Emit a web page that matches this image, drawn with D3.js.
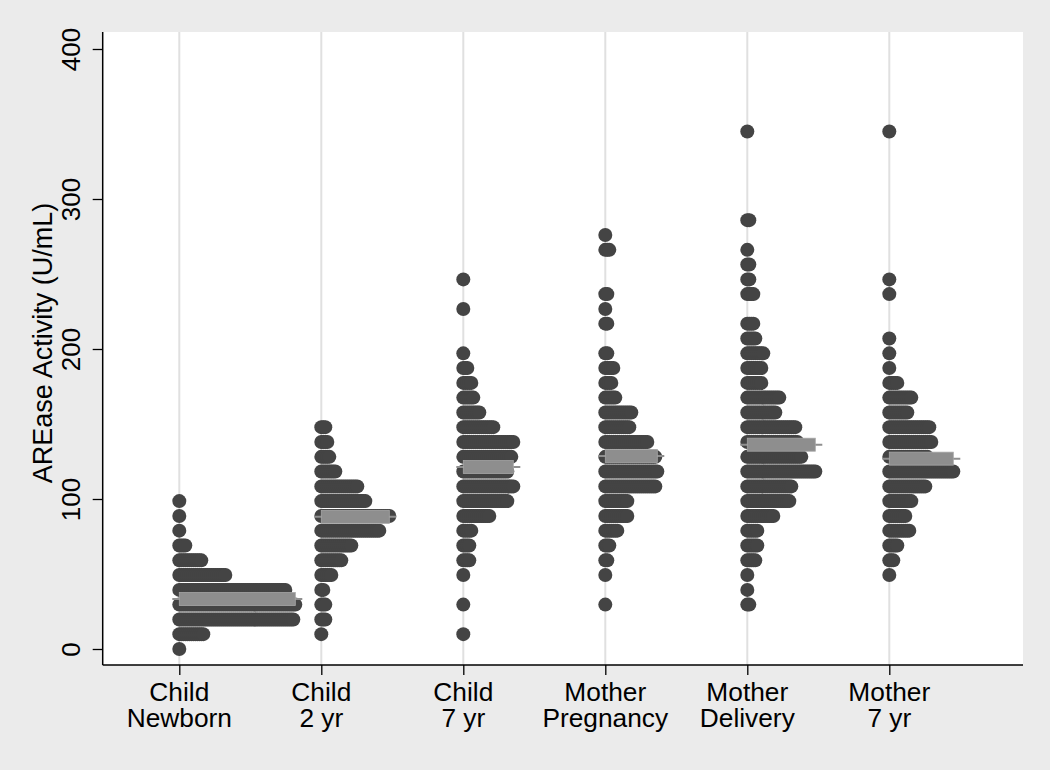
<!DOCTYPE html>
<html>
<head>
<meta charset="utf-8">
<script src="https://cdn.jsdelivr.net/npm/d3@7"></script>
<style>
  html, body { margin: 0; padding: 0; background: #ebebeb; }
  svg { display: block; }
  text { font-family: "Liberation Sans", Arial, Helvetica, sans-serif; fill: #000; }
</style>
</head>
<body>
<svg id="chart" width="1050" height="770"></svg>
<script>
// ---- data ----
const categoryLine1 = ["Child", "Child", "Child", "Mother", "Mother", "Mother"];
const categoryLine2 = ["Newborn", "2 yr", "7 yr", "Pregnancy", "Delivery", "7 yr"];
const yTicks = [0, 100, 200, 300, 400];

// dot-plot bin positions (U/mL)
const binValues = [0, 9.9, 19.7, 29.6, 39.4, 49.3, 59.1, 69.0, 78.9, 88.7,
  98.6, 108.4, 118.3, 128.1, 138.0, 147.9, 157.7, 167.6, 177.4, 187.3,
  197.1, 207.0, 216.9, 226.7, 236.6, 246.4, 256.3, 266.1, 276.0, 285.9,
  295.7, 305.6, 315.4, 325.3, 335.1, 345.0];

// number of observations in each bin, per group
const countsChildNewborn = [1,13,58,59,54,24,12,4,1,1, 1,0,0,0,0,0,0,0,0,0, 0,0,0,0,0,0,0,0,0,0, 0,0,0,0,0,0];
const countsChild2yr     = [0,1,3,3,2,6,11,16,30,35, 23,19,8,5,4,3,0,0,0,0, 0,0,0,0,0,0,0,0,0,0, 0,0,0,0,0,0];
const countsChild7yr     = [0,1,0,1,0,1,4,4,5,14, 23,26,23,25,26,16,9,6,5,3, 1,0,0,1,0,1,0,0,0,0, 0,0,0,0,0,0];
const countsMotherPreg   = [0,0,0,1,0,1,2,3,7,12, 12,26,27,26,22,13,14,6,4,5, 2,0,2,1,2,0,0,3,1,0, 0,0,0,0,0,0];
const countsMotherDeliv  = [0,0,0,2,1,1,5,6,6,14, 22,23,35,28,26,25,15,17,8,8, 9,5,4,0,4,2,2,1,0,2, 0,0,0,0,0,1];
const countsMother7yr    = [0,0,0,0,0,1,3,5,11,9, 12,19,33,20,22,21,10,12,5,1, 1,1,0,0,1,1,0,0,0,0, 0,0,0,0,0,1];

const groupMeans = [33.3, 88.1, 121.3, 128.7, 136.2, 126.9];

const groupCounts = [countsChildNewborn, countsChild2yr, countsChild7yr,
                     countsMotherPreg, countsMotherDeliv, countsMother7yr];

// ---- layout ----
const svg = d3.select("#chart");
const plotLeft = 102.7, plotRight = 1023, plotTop = 32, plotBottom = 665;
const dotR = 7, dotStep = 2;

const x = d3.scaleLinear().domain([1, 6]).range([179.3, 889.3]);
const y = d3.scaleLinear().domain([0, 400]).range([649, 49]);

// white plot region
svg.append("rect")
  .attr("x", plotLeft).attr("y", plotTop)
  .attr("width", plotRight - plotLeft).attr("height", plotBottom - plotTop)
  .attr("fill", "#ffffff");

// vertical grid lines at categories
svg.append("g").selectAll("line")
  .data(categoryLine1)
  .join("line")
  .attr("x1", (d, i) => x(i + 1)).attr("x2", (d, i) => x(i + 1))
  .attr("y1", plotTop).attr("y2", plotBottom)
  .attr("stroke", "#e0e0e0").attr("stroke-width", 2);

// dots
const dots = [];
groupCounts.forEach((counts, gi) => {
  counts.forEach((n, bi) => {
    for (let j = 0; j < n; j++) dots.push({ g: gi, v: binValues[bi], j });
  });
});
svg.append("g").selectAll("circle")
  .data(dots)
  .join("circle")
  .attr("cx", d => x(d.g + 1) + d.j * dotStep)
  .attr("cy", d => y(d.v))
  .attr("r", dotR)
  .attr("fill", "#444444");

// mean markers
const meanG = svg.append("g");
groupCounts.forEach((counts, gi) => {
  const maxN = d3.max(counts);
  const cx = x(gi + 1);
  const cy = y(groupMeans[gi]);
  meanG.append("line")
    .attr("x1", cx - dotR).attr("x2", cx + (maxN - 1) * dotStep + dotR)
    .attr("y1", cy).attr("y2", cy)
    .attr("stroke", "#8f8f8f").attr("stroke-width", 2);
  meanG.append("rect")
    .attr("x", cx).attr("y", cy - 6.5)
    .attr("width", (maxN - 1) * dotStep).attr("height", 13)
    .attr("fill", "#8e8e8e").attr("stroke", "#a6a6a6").attr("stroke-width", 0.8);
});

// y axis
const yAxis = d3.axisLeft(y).tickValues(yTicks).tickSize(10).tickPadding(3).tickFormat(d3.format("d"));
const yg = svg.append("g").attr("transform", `translate(${plotLeft},0)`).call(yAxis);
yg.select(".domain").remove();
yg.selectAll(".tick line").attr("stroke", "#000").attr("stroke-width", 1.3);
yg.selectAll(".tick text").remove();
yg.selectAll(".tick").append("text")
  .attr("transform", "translate(-23,0) rotate(-90)")
  .attr("text-anchor", "middle")
  .attr("font-size", 26)
  .text(d => d);
svg.append("line")
  .attr("x1", plotLeft).attr("x2", plotLeft)
  .attr("y1", plotTop).attr("y2", plotBottom)
  .attr("stroke", "#000").attr("stroke-width", 1.5);

// x axis
const xAxis = d3.axisBottom(x).tickValues([1, 2, 3, 4, 5, 6]).tickSize(10).tickFormat("");
const xg = svg.append("g").attr("transform", `translate(0,${plotBottom})`).call(xAxis);
xg.select(".domain").remove();
xg.selectAll(".tick line").attr("stroke", "#000").attr("stroke-width", 1.3);
svg.append("line")
  .attr("x1", plotLeft).attr("x2", plotRight)
  .attr("y1", plotBottom).attr("y2", plotBottom)
  .attr("stroke", "#000").attr("stroke-width", 1.5);

const catLabels = svg.append("g").selectAll("text")
  .data(categoryLine1)
  .join("text")
  .attr("x", (d, i) => x(i + 1))
  .attr("y", 701)
  .attr("text-anchor", "middle")
  .attr("font-size", 26.3);
catLabels.append("tspan").attr("x", (d, i) => x(i + 1)).text(d => d);
catLabels.append("tspan").attr("x", (d, i) => x(i + 1)).attr("dy", 25.7)
  .text((d, i) => categoryLine2[i]);

// y axis title
svg.append("text")
  .attr("transform", "translate(51.5,343) rotate(-90)")
  .attr("text-anchor", "middle")
  .attr("font-size", 27)
  .text("AREase Activity (U/mL)");
</script>
</body>
</html>
